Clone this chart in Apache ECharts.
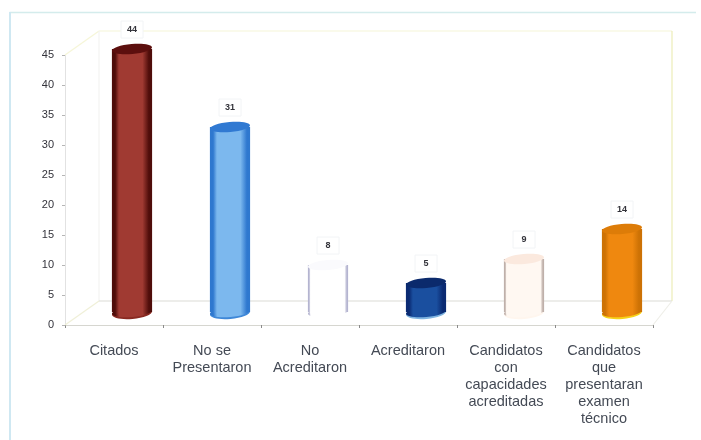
<!DOCTYPE html>
<html>
<head>
<meta charset="utf-8">
<style>html,body{margin:0;padding:0;background:#fff}#chart{width:701px;height:440px}</style>
<script src="https://cdn.jsdelivr.net/npm/echarts@6/dist/echarts.min.js"></script>
</head>
<body>
<div id="chart"></div>
<script>
// Candidate counts per selection stage
const categories = ['Citados', 'No se\nPresentaron', 'No\nAcreditaron', 'Acreditaron',
  'Candidatos\ncon\ncapacidades\nacreditadas', 'Candidatos\nque\npresentaran\nexamen\ntécnico'];
const counts = [44, 31, 8, 5, 9, 14];
const yTicks = { min: 0, max: 45, interval: 5 };

// Per-column shading: edge, centre, top cap, base rim, edge band width
const shades = [
  { edge: '#4f0d0a', mid: '#a03a32', top: '#5c0f0e', rim: '#8a2a22', band: 0.08 },
  { edge: '#2f78cf', mid: '#7cb8ee', top: '#3079d2', rim: '#3f88d8', band: 0.08 },
  { edge: '#b4b4d0', mid: '#ffffff', top: '#fafafd', rim: '#ffffff', band: 0.03 },
  { edge: '#0a2a72', mid: '#1a4f9f', top: '#0b2a6c', rim: '#7fb4e0', band: 0.08 },
  { edge: '#bfb0aa', mid: '#fff8f2', top: '#fbe9de', rim: '#fff6ee', band: 0.03 },
  { edge: '#cd7205', mid: '#ef880f', top: '#dd7c08', rim: '#f6d21a', band: 0.08 }
];

// Oblique projection used for the pseudo 3D box
const depthX = 34, depthY = -24;
const backInset = 15;
const barShiftX = 18, barShiftY = -12;

function renderBox(params, api) {
  const n = categories.length;
  const half = api.size([1, 0])[0] / 2;
  const first = api.coord([0, yTicks.min]);
  const topPt = api.coord([0, yTicks.max]);
  const x0 = first[0] - half, x1 = api.coord([n - 1, 0])[0] + half;
  const y0 = first[1], yT = topPt[1];
  const backRight = x1 + depthX - backInset;
  const seg = (a, b, c, d, color) => ({
    type: 'line', shape: { x1: a, y1: b, x2: c, y2: d },
    style: { stroke: color, lineWidth: 1.2 }
  });
  const wall = '#f6f6d8', floor = '#dcdcd6';
  return {
    type: 'group',
    children: [
      seg(x0 + depthX, yT + depthY, backRight, yT + depthY, wall),
      seg(backRight, yT + depthY, backRight, y0 + depthY, '#ecedb8'),
      seg(x0, yT, x0 + depthX, yT + depthY, wall),
      seg(x0 + depthX, yT + depthY, x0 + depthX, y0 + depthY, '#f4f4f2'),
      seg(x0, y0, x0 + depthX, y0 + depthY, '#f0f0d8'),
      seg(x0 + depthX, y0 + depthY, backRight, y0 + depthY, floor),
      seg(x1, y0, backRight, y0 + depthY, '#eeeee8')
    ]
  };
}

function renderColumn(params, api) {
  const idx = api.value(0), v = api.value(1);
  const s = shades[idx];
  const base = api.coord([idx, 0]), head = api.coord([idx, v]);
  const rx = api.size([1, 0])[0] * 0.205, ry = 5;
  const cx = base[0] + barShiftX;
  const yb = base[1] + barShiftY, yt = head[1] + barShiftY;
  const body = new echarts.graphic.LinearGradient(0, 0, 1, 0, [
    { offset: 0, color: s.edge }, { offset: s.band, color: s.edge },
    { offset: s.band * 2.2, color: s.mid }, { offset: 1 - s.band * 3, color: s.mid },
    { offset: 1 - s.band, color: s.edge }, { offset: 1, color: s.edge }
  ]);
  const tilt = 0.09;
  return {
    type: 'group',
    children: [
      { type: 'ellipse', x: cx, y: yb, rotation: tilt,
        shape: { cx: 0, cy: 0, rx: rx, ry: ry + 1 }, style: { fill: s.rim } },
      { type: 'ellipse', x: cx, y: yb - 1, rotation: tilt,
        shape: { cx: 0, cy: 0, rx: rx, ry: ry }, style: { fill: body } },
      { type: 'rect', shape: { x: cx - rx, y: yt, width: rx * 2, height: yb - yt - 1 },
        style: { fill: body } },
      { type: 'ellipse', x: cx, y: yt, rotation: tilt,
        shape: { cx: 0, cy: 0, rx: rx, ry: ry }, style: { fill: s.top } },
      { type: 'rect', shape: { x: cx - 11, y: yt - 28, width: 22, height: 17 },
        style: { fill: '#ffffff', stroke: '#f2f4f6', lineWidth: 1 } },
      { type: 'text', x: cx, y: yt - 19,
        style: { text: String(v), fill: '#33333a', font: 'bold 9px "Liberation Sans"',
          textAlign: 'center', textVerticalAlign: 'middle' } }
    ]
  };
}

const chart = echarts.init(document.getElementById('chart'), null, { renderer: 'canvas' });
chart.setOption({
  animation: false,
  backgroundColor: '#ffffff',
  grid: { left: 65, right: 48, top: 55, bottom: 115 },
  graphic: [
    { type: 'line', shape: { x1: 9.5, y1: 12.5, x2: 696, y2: 12.5 }, style: { stroke: '#d4ecec', lineWidth: 1.5 } },
    { type: 'line', shape: { x1: 10, y1: 12, x2: 10, y2: 440 }, style: { stroke: '#cfe8f2', lineWidth: 2 } }
  ],
  xAxis: {
    type: 'category',
    data: categories,
    axisLine: { lineStyle: { color: '#d6d6d0', width: 1 } },
    axisTick: { show: true, alignWithLabel: false, length: 3, inside: false, lineStyle: { color: '#8a8a8a' } },
    axisLabel: { color: '#444a55', fontFamily: 'Liberation Sans', fontSize: 14.5, lineHeight: 17, margin: 17, interval: 0 }
  },
  yAxis: {
    type: 'value',
    min: yTicks.min, max: yTicks.max, interval: yTicks.interval,
    splitLine: { show: false },
    axisLine: { show: true, lineStyle: { color: '#e2e2e2' } },
    axisTick: { show: true, length: 3, lineStyle: { color: '#b5b5b5' } },
    axisLabel: { color: '#33333b', fontFamily: 'Liberation Sans', fontSize: 11, margin: 11 }
  },
  series: [
    { type: 'custom', z: 1, silent: true, clip: false, renderItem: renderBox, data: [[0, 0]] },
    { type: 'custom', z: 2, silent: true, clip: false, renderItem: renderColumn,
      encode: { x: 0, y: 1 }, data: counts.map((v, i) => [i, v]) }
  ]
});
</script>
</body>
</html>
